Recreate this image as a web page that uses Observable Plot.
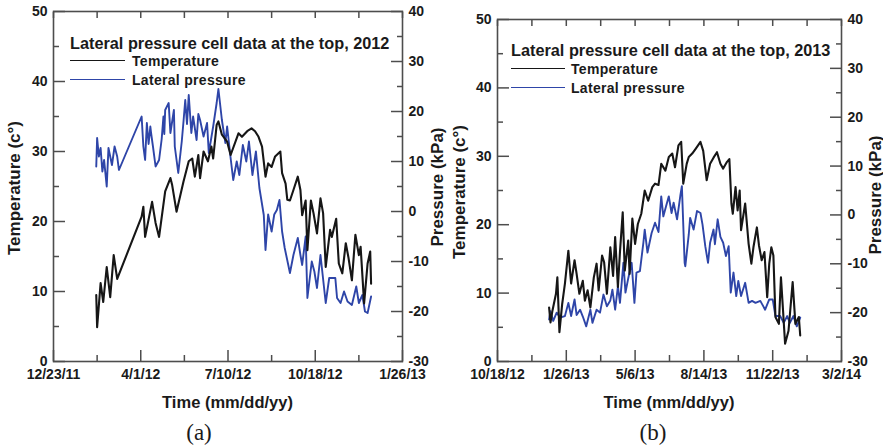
<!DOCTYPE html>
<html><head><meta charset="utf-8">
<script src="https://cdn.jsdelivr.net/npm/d3@7"></script>
<script src="https://cdn.jsdelivr.net/npm/@observablehq/plot@0.6"></script>
<style>
body{margin:0;background:#fff;}
#wrap{position:relative;width:883px;height:448px;overflow:hidden;font-family:"Liberation Sans",Arial,sans-serif;font-weight:bold;color:#1a1a1a;}
.panel{position:absolute;top:0;}
.t{position:absolute;line-height:1;white-space:nowrap;}
.c{transform:translate(-50%,-50%);}
.r{transform:translate(-50%,-50%) rotate(-90deg);}
.l{transform:translate(0,-50%);}
.cap{font-family:"Liberation Serif","Times New Roman",serif;font-weight:normal;font-size:23px;}
.ax{font-size:16.5px;}
.ay{font-size:17px;}
.lt{font-size:16.3px;}
.li{font-size:14px;letter-spacing:0.3px;}
.sw{position:absolute;height:0;}
</style></head>
<body><div id="wrap"></div>
<script>
// ---------------- data ----------------
const temp2012 = [
["2012-02-10",9.5],["2012-02-11",4.9],["2012-02-15",11.2],["2012-02-18",8.5],["2012-02-22",13.5],["2012-02-26",9.2],["2012-03-01",15.2],["2012-03-05",11.8],
["2012-04-02",20.7],["2012-04-04",22.1],["2012-04-06",17.8],["2012-04-14",22.8],["2012-04-18",19.8],["2012-04-22",17.8],["2012-04-29",24.3],["2012-05-05",26.2],
["2012-05-07",25.2],["2012-05-12",21.4],["2012-05-20",25.7],["2012-05-26",28.6],["2012-05-30",29],["2012-06-02",26.4],["2012-06-06",29.5],["2012-06-08",26.2],
["2012-06-12",30],["2012-06-17",28.6],["2012-06-21",30.7],["2012-06-23",29],["2012-06-27",33.8],["2012-06-29",34.3],["2012-07-03",32.4],["2012-07-09",31.4],
["2012-07-13",29.5],["2012-07-22",32.6],["2012-07-26",32.1],["2012-08-01",32.9],["2012-08-06",33.3],["2012-08-10",32.9],["2012-08-14",32.1],["2012-08-18",30.7],
["2012-08-22",26.4],["2012-08-25",28.3],["2012-08-29",27.8],["2012-09-02",29.3],["2012-09-08",30],["2012-09-10",26.9],["2012-09-14",25.4],["2012-09-16",23.1],
["2012-09-19",23],["2012-09-23",24.5],["2012-09-28",26.4],["2012-10-01",24.5],["2012-10-03",20.9],["2012-10-07",23],["2012-10-09",15.9],["2012-10-13",23],
["2012-10-16",21.2],["2012-10-20",18.3],["2012-10-24",23.3],["2012-10-27",21.2],["2012-10-30",13.5],["2012-11-04",18.8],["2012-11-06",17.8],["2012-11-11",20.4],
["2012-11-14",14],["2012-11-18",12.6],["2012-11-22",16.9],["2012-11-25",14.9],["2012-11-29",11.6],["2012-12-03",18.1],["2012-12-07",15.2],["2012-12-09",16.4],
["2012-12-13",8.3],["2012-12-17",14],["2012-12-20",15.7],["2012-12-21",11.1]
];
const pres2012 = [
["2012-02-10",9],["2012-02-11",14.7],["2012-02-13",11],["2012-02-15",12.7],["2012-02-17",8],["2012-02-19",10.3],["2012-02-22",5],["2012-02-24",12.7],
["2012-02-28",9.3],["2012-03-02",13],["2012-03-05",11],["2012-03-07",8.3],["2012-04-02",19],["2012-04-04",13],["2012-04-06",10.3],["2012-04-08",17.7],
["2012-04-10",13.5],["2012-04-12",17],["2012-04-13",15.5],["2012-04-15",13],["2012-04-18",9],["2012-04-22",10.3],["2012-04-25",14.5],["2012-04-27",19],
["2012-04-28",15.5],["2012-04-29",20.3],["2012-05-03",21.7],["2012-05-05",15.7],["2012-05-09",20.3],["2012-05-10",13],["2012-05-14",7.7],["2012-05-18",14],
["2012-05-20",18],["2012-05-22",22.3],["2012-05-24",17.5],["2012-05-26",23.3],["2012-05-29",15.7],["2012-05-31",19],["2012-06-04",14.3],["2012-06-06",19.5],
["2012-06-08",18.3],["2012-06-12",15],["2012-06-16",17.7],["2012-06-18",11.7],["2012-06-23",17],["2012-06-27",21.7],["2012-06-29",24.5],["2012-07-03",18.3],
["2012-07-07",13.7],["2012-07-09",17],["2012-07-13",10.7],["2012-07-16",6.3],["2012-07-20",10],["2012-07-23",7.3],["2012-07-27",13.3],["2012-07-31",10],
["2012-08-03",14],["2012-08-07",7.3],["2012-08-11",12],["2012-08-15",4.7],["2012-08-20",-0.7],["2012-08-22",-7.7],["2012-08-25",-0.6],["2012-08-29",-4],
["2012-09-01",-0.6],["2012-09-04",0.3],["2012-09-07",2.3],["2012-09-10",-4],["2012-09-13",-7.3],["2012-09-19",-12.3],["2012-09-23",-8.7],["2012-09-28",-5.3],
["2012-10-01",-8.7],["2012-10-03",-10.7],["2012-10-07",-5],["2012-10-09",-17.3],["2012-10-14",-10],["2012-10-17",-12],["2012-10-20",-15.3],["2012-10-24",-8.7],
["2012-10-30",-18.3],["2012-11-03",-13.3],["2012-11-10",-13.3],["2012-11-12",-17.3],["2012-11-16",-18.3],["2012-11-20",-16],["2012-11-24",-18],["2012-11-29",-18.7],
["2012-12-04",-15],["2012-12-07",-18.3],["2012-12-11",-16.7],["2012-12-14",-20],["2012-12-17",-20.3],["2012-12-21",-17]
];
const temp2013 = [
["2013-01-01",7.9],["2013-01-03",5.7],["2013-01-06",7.5],["2013-01-11",9.9],["2013-01-13",12.3],["2013-01-16",4.3],["2013-01-20",8.4],["2013-01-24",11.4],
["2013-01-29",16.2],["2013-02-02",11.4],["2013-02-07",14.8],["2013-02-10",12.8],["2013-02-14",9.9],["2013-02-19",11.8],["2013-02-22",8.9],["2013-02-26",10.4],
["2013-03-02",7.9],["2013-03-07",12.3],["2013-03-11",14.3],["2013-03-14",10.4],["2013-03-19",15.5],["2013-03-22",14.5],["2013-03-26",9.9],["2013-03-31",16.7],
["2013-04-04",12.5],["2013-04-07",18.2],["2013-04-11",10.9],["2013-04-14",16],["2013-04-18",21.8],["2013-04-21",13.3],["2013-04-26",17.7],["2013-04-28",12.8],
["2013-05-02",20.9],["2013-05-06",17.2],["2013-05-10",20.1],["2013-05-15",21.6],["2013-05-20",25],["2013-05-25",23.5],["2013-05-31",25.5],["2013-06-04",26],
["2013-06-09",25.8],["2013-06-13",28.9],["2013-06-19",27.9],["2013-06-24",29.9],["2013-06-29",30.4],["2013-07-03",28.4],["2013-07-08",31.6],["2013-07-12",32.1],
["2013-07-15",26],["2013-07-20",28.9],["2013-07-23",29.9],["2013-07-28",30.4],["2013-08-02",31.1],["2013-08-09",32.1],["2013-08-13",30.8],["2013-08-18",26.5],
["2013-08-23",28.9],["2013-08-28",29.8],["2013-09-02",30.6],["2013-09-07",28.9],["2013-09-11",28.2],["2013-09-16",29.1],["2013-09-20",29.6],["2013-09-23",23.1],
["2013-09-25",21.6],["2013-09-29",25.5],["2013-10-02",22.1],["2013-10-05",25],["2013-10-07",19.2],["2013-10-13",23.1],["2013-10-18",17.2],["2013-10-22",14.3],
["2013-10-25",16.7],["2013-10-30",19.6],["2013-11-02",17],["2013-11-06",14.8],["2013-11-10",16],["2013-11-14",9.4],["2013-11-17",14.3],["2013-11-20",16.7],
["2013-11-23",15.5],["2013-11-26",6.5],["2013-12-01",5.5],["2013-12-04",12.3],["2013-12-07",7.5],["2013-12-10",2.6],["2013-12-15",4.5],["2013-12-21",11.6],
["2013-12-25",5.5],["2013-12-30",6.5],["2014-01-01",3.8]
];
const pres2013 = [
["2013-01-01",-21.4],["2013-01-03",-19.7],["2013-01-07",-21.7],["2013-01-12",-20],["2013-01-17",-21],["2013-01-24",-20.7],["2013-01-29",-18],["2013-02-02",-20.7],
["2013-02-07",-17.3],["2013-02-10",-20.5],["2013-02-15",-19.4],["2013-02-19",-20.8],["2013-02-24",-22.8],["2013-03-02",-19.4],["2013-03-05",-22.1],["2013-03-11",-19.4],
["2013-03-16",-20],["2013-03-21",-16.3],["2013-03-26",-18.7],["2013-03-31",-17.5],["2013-04-03",-15.3],["2013-04-07",-19.4],["2013-04-11",-14.6],["2013-04-14",-18],
["2013-04-19",-9.8],["2013-04-22",-15.9],["2013-04-26",-13],["2013-05-01",-9.8],["2013-05-05",-18],["2013-05-08",-11.8],["2013-05-13",-11.5],["2013-05-18",-5.7],
["2013-05-20",-3],["2013-05-24",-7.7],["2013-05-30",-3.7],["2013-06-04",-1.6],["2013-06-09",-3.5],["2013-06-13",3.8],["2013-06-16",-0.3],["2013-06-20",1.8],
["2013-06-24",3.8],["2013-06-28",0.4],["2013-07-01",2.5],["2013-07-06",-0.9],["2013-07-11",4.2],["2013-07-13",5.9],["2013-07-17",-9.8],["2013-07-18",-10.5],
["2013-07-23",-4],["2013-07-25",-0.6],["2013-07-30",-3],["2013-08-04",0.8],["2013-08-09",0.4],["2013-08-12",-2],["2013-08-16",-6.4],["2013-08-20",-9.8],
["2013-08-23",-5.7],["2013-08-28",-3],["2013-08-30",-6],["2013-09-03",-0.9],["2013-09-07",-4.5],["2013-09-11",-5.7],["2013-09-15",-8.4],["2013-09-19",-6.4],
["2013-09-22",-15.9],["2013-09-26",-11.8],["2013-09-30",-16.6],["2013-10-03",-13.5],["2013-10-07",-16.6],["2013-10-13",-13.9],["2013-10-18",-18],["2013-10-23",-17.6],
["2013-10-28",-18],["2013-11-04",-17.6],["2013-11-11",-19.4],["2013-11-17",-17.3],["2013-11-22",-17.3],["2013-11-26",-20.7],["2013-12-03",-20.7],["2013-12-08",-22.1],
["2013-12-13",-20.7],["2013-12-17",-22.1],["2013-12-22",-20.7],["2013-12-27",-22.8],["2014-01-01",-21]
];
const xMajorA = ["2011-12-23","2012-04-01","2012-07-10","2012-10-18","2013-01-26"];
const xMinorA = ["2012-02-11","2012-05-21","2012-08-29","2012-12-07"];
const xMajorB = ["2012-10-18","2013-01-26","2013-05-06","2013-08-14","2013-11-22","2014-03-02"];
const xMinorB = ["2012-12-07","2013-03-17","2013-06-25","2013-10-03","2014-01-11"];
const tempTicks = [0,10,20,30,40,50];
const tempMinor = [5,15,25,35,45];
const presTicks = [-30,-20,-10,0,10,20,30,40];
const presMinor = [-25,-15,-5,5,15,25,35];
const tempDomain = [0,50];
const presDomain = [-30,40];
const titles = ["Lateral pressure cell data at the top, 2012","Lateral pressure cell data at the top, 2013"];
const seriesNames = ["Temperature","Lateral pressure"];
const captions = ["(a)","(b)"];
const xTitle = "Time (mm/dd/yy)", yTitle = "Temperature (c°)", y2Title = "Pressure (kPa)";

// ---------------- drawing ----------------
const BLUE = "#2e45a8", BLACK = "#161616", AXC = "#4d4d4d";
const parse = d3.utcParse("%Y-%m-%d");
const fmt = d3.utcFormat("%-m/%-d/%y");
// pressure is drawn on the temperature scale through a linear map
const p2t = d3.scaleLinear().domain(presDomain).range(tempDomain);

function panel(temp, pres, xDom, major, minor, o) {
  const M = major.map(parse), m = minor.map(parse);
  return Plot.plot({
    width: o.width, height: 448,
    marginLeft: o.ml, marginRight: o.mr, marginTop: o.mt, marginBottom: 448 - 361,
    style: {fontFamily: "Liberation Sans, Arial, sans-serif", fontSize: "14px", fontWeight: "bold", background: "transparent", overflow: "visible"},
    x: {type: "utc", domain: [parse(xDom[0]), parse(xDom[1])]},
    y: {domain: tempDomain},
    marks: [
      Plot.line(pres, {x: d => parse(d[0]), y: d => p2t(d[1]), stroke: BLUE, strokeWidth: 1.9, strokeLinejoin: "round"}),
      Plot.line(temp, {x: d => parse(d[0]), y: d => d[1], stroke: BLACK, strokeWidth: 2.1, strokeLinejoin: "round"}),
      Plot.frame({stroke: AXC, strokeWidth: 1.6}),
      Plot.axisX(M, {tickSize: -11, tickPadding: 19, tickFormat: fmt, label: null, stroke: AXC, strokeWidth: 1.5, fill: "#1a1a1a"}),
      Plot.axisX(m, {tickSize: -6, tickFormat: () => "", label: null, stroke: AXC, strokeWidth: 1.5}),
      Plot.axisX(M.concat(m), {anchor: "top", tickSize: -6, tickFormat: () => "", label: null, stroke: AXC, strokeWidth: 1.5}),
      Plot.axisY(tempTicks, {tickSize: -12, tickPadding: 18, label: null, stroke: AXC, strokeWidth: 1.5, fill: "#1a1a1a"}),
      Plot.axisY(tempMinor, {tickSize: -6, tickFormat: () => "", label: null, stroke: AXC, strokeWidth: 1.5}),
      Plot.axisY(presTicks.map(p2t), {anchor: "right", tickSize: -12, tickPadding: 18, tickFormat: t => String(Math.round(p2t.invert(t))), label: null, stroke: AXC, strokeWidth: 1.5, fill: "#1a1a1a"}),
      Plot.axisY(presMinor.map(p2t), {anchor: "right", tickSize: -6, tickFormat: () => "", label: null, stroke: AXC, strokeWidth: 1.5})
    ]
  });
}

const wrap = document.getElementById("wrap");
const cfg = [
  {left: 0, width: 440, ml: 53, mr: 38, mt: 11, temp: temp2012, pres: pres2012, dom: ["2011-12-23","2013-01-26"], major: xMajorA, minor: xMinorA,
   lt: [70, 43], sw: [70, 125], ly: [61, 80], tx: 132, xt: [227.5, 402], yt: [14, 188], y2t: [437, 187], cap: [199, 432]},
  {left: 440, width: 443, ml: 57, mr: 42, mt: 19, temp: temp2013, pres: pres2013, dom: ["2012-10-18","2014-03-02"], major: xMajorB, minor: xMinorB,
   lt: [511, 50], sw: [511, 565], ly: [69, 88], tx: 571, xt: [669, 402], yt: [459, 192], y2t: [875, 195], cap: [653, 432]}
];
function addText(cls, txt, x, y) {
  const d = document.createElement("div");
  d.className = "t " + cls; d.textContent = txt;
  d.style.left = x + "px"; d.style.top = y + "px";
  wrap.appendChild(d);
}
cfg.forEach((c, i) => {
  const svg = panel(c.temp, c.pres, c.dom, c.major, c.minor, c);
  svg.classList.add("panel");
  svg.style.left = c.left + "px";
  wrap.appendChild(svg);
  addText("lt l", titles[i], c.lt[0], c.lt[1]);
  [BLACK, BLUE].forEach((col, k) => {
    const s = document.createElement("div");
    s.className = "sw";
    s.style.left = c.sw[0] + "px"; s.style.width = (c.sw[1] - c.sw[0]) + "px";
    s.style.top = (c.ly[k] - 0.8) + "px";
    s.style.borderTop = "1.6px solid " + col;
    wrap.appendChild(s);
    addText("li l", seriesNames[k], c.tx, c.ly[k]);
  });
  addText("ax c", xTitle, c.xt[0], c.xt[1]);
  addText("ay r", yTitle, c.yt[0], c.yt[1]);
  addText("ay r", y2Title, c.y2t[0], c.y2t[1]);
  addText("cap c", captions[i], c.cap[0], c.cap[1]);
});
</script>
</body></html>
